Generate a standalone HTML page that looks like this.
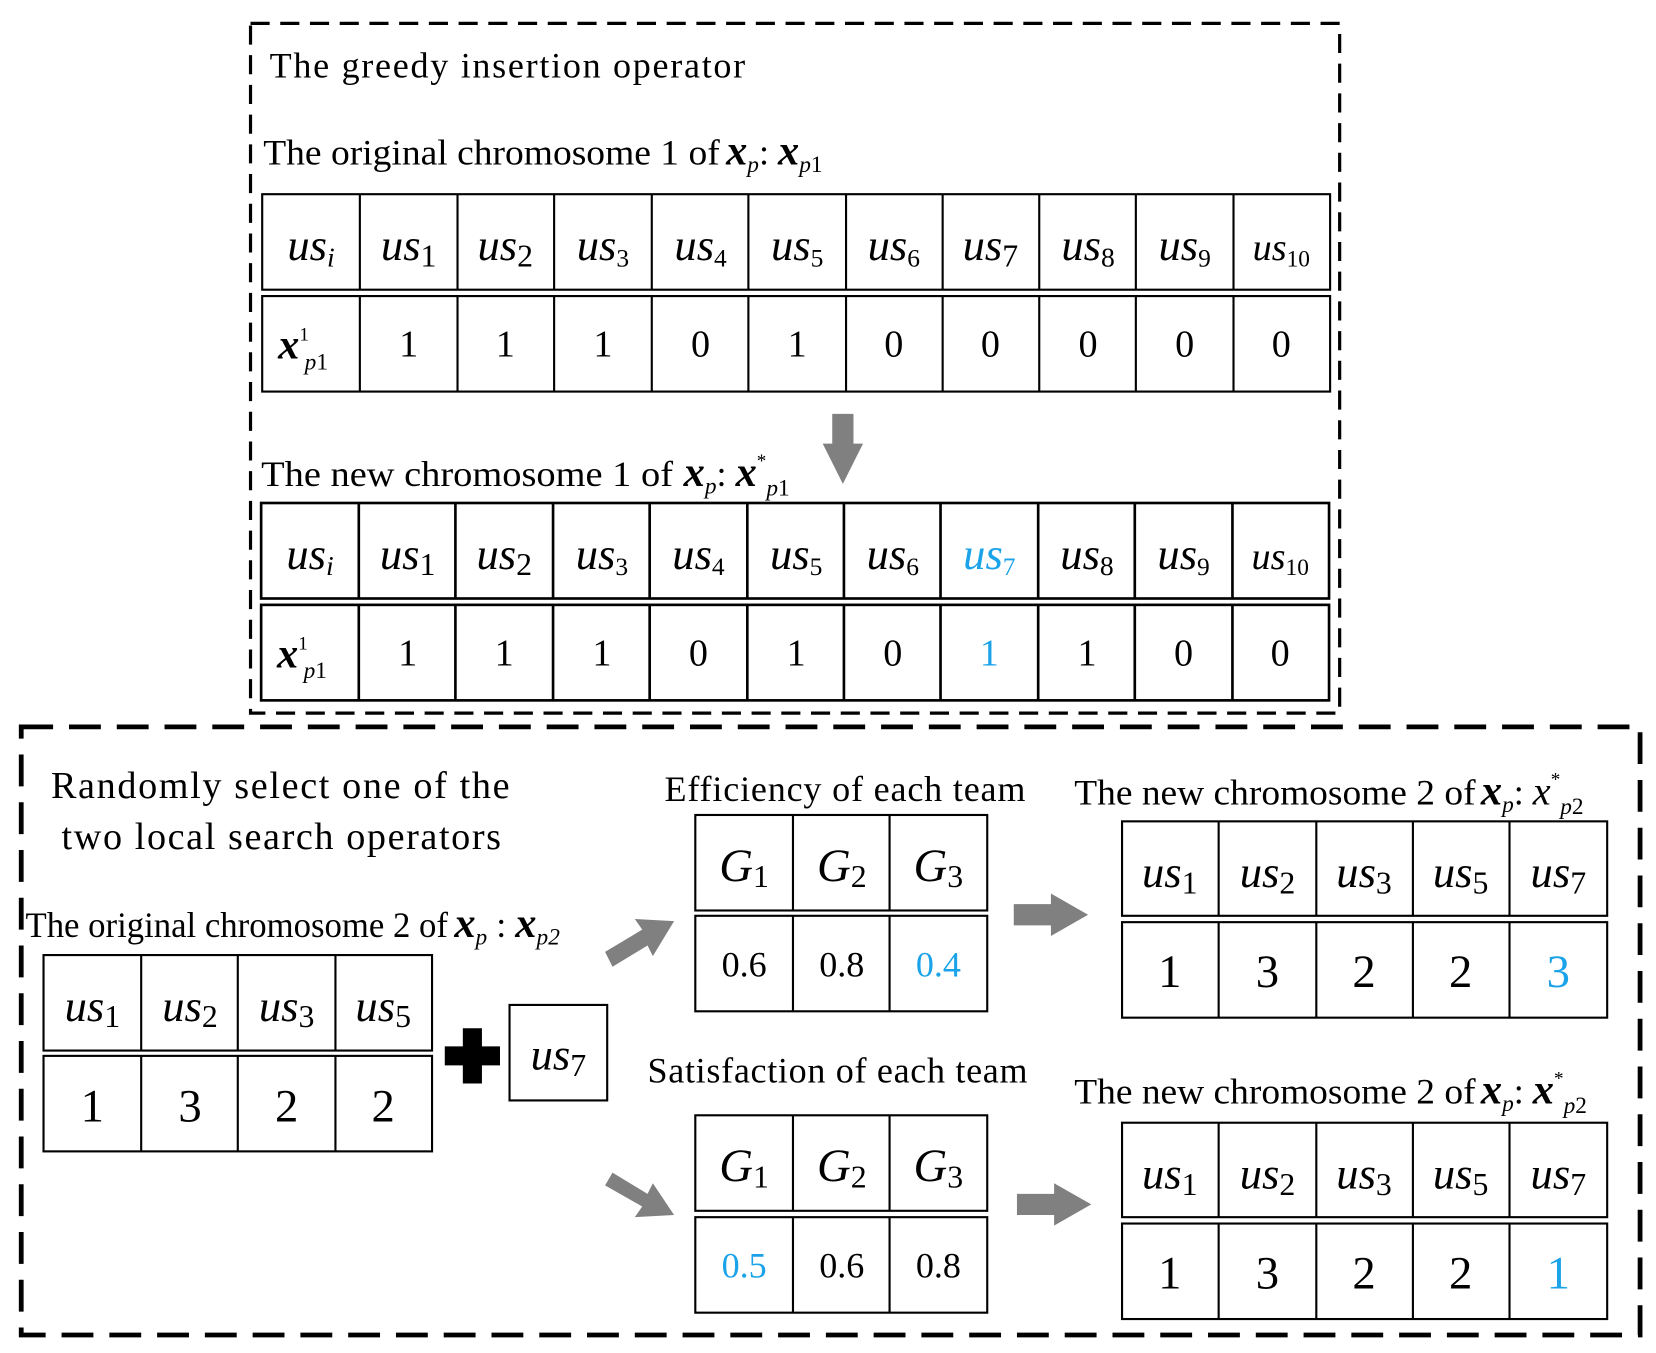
<!DOCTYPE html>
<html><head><meta charset="utf-8"><style>
html,body{margin:0;padding:0;background:#fff;}
svg{display:block;}
svg, svg text, svg tspan{font-family:"Liberation Serif","Times New Roman",Times,serif;}
text{fill:#000;}
.i{font-style:italic;}
.b{font-weight:bold;font-style:italic;}
.blue{fill:#1aa3e8;}
</style></head><body>
<svg width="1656" height="1353" viewBox="0 0 1560 1275" preserveAspectRatio="none" xmlns="http://www.w3.org/2000/svg" font-family="Liberation Serif, Times New Roman, serif">
<rect x="236" y="22" width="1026" height="650" fill="none" stroke="#000" stroke-width="3" stroke-dasharray="18,10"/>
<rect x="20" y="685" width="1525" height="573" fill="none" stroke="#000" stroke-width="4.5" stroke-dasharray="30,15"/>

<text x="254" y="73" font-size="34" textLength="448">The greedy insertion operator</text>
<text x="248" y="155" font-size="34"><tspan textLength="430" lengthAdjust="spacingAndGlyphs">The original chromosome 1 of</tspan><tspan dx="6" class="b" font-size="40">x</tspan><tspan class="i" font-size="22" dy="7">p</tspan><tspan dy="-7">:  </tspan><tspan class="b" font-size="40">x</tspan><tspan class="i" font-size="22" dy="7">p</tspan><tspan font-size="22">1</tspan></text>

<g fill="none" stroke="#000" stroke-width="2">
<rect x="247" y="183" width="1006" height="90"/>
<rect x="247" y="279" width="1006" height="90"/>
<path d="M339 183V273M431 183V273M522 183V273M614 183V273M705 183V273M797 183V273M888 183V273M979 183V273M1070 183V273M1162 183V273"/>
<path d="M339 279V369M431 279V369M522 279V369M614 279V369M705 279V369M797 279V369M888 279V369M979 279V369M1070 279V369M1162 279V369"/>
</g>
<g font-size="42" text-anchor="middle">
<text x="293" y="245"><tspan class="i">us</tspan><tspan class="i" font-size="26" dy="6">i</tspan></text>
<text x="385" y="245"><tspan class="i">us</tspan><tspan font-size="30" dy="6">1</tspan></text>
<text x="476" y="245"><tspan class="i">us</tspan><tspan font-size="30" dy="6">2</tspan></text>
<text x="568" y="245"><tspan class="i">us</tspan><tspan font-size="24" dy="6">3</tspan></text>
<text x="660" y="245"><tspan class="i">us</tspan><tspan font-size="24" dy="6">4</tspan></text>
<text x="751" y="245"><tspan class="i">us</tspan><tspan font-size="24" dy="6">5</tspan></text>
<text x="842" y="245"><tspan class="i">us</tspan><tspan font-size="24" dy="6">6</tspan></text>
<text x="933" y="245"><tspan class="i">us</tspan><tspan font-size="30" dy="6">7</tspan></text>
<text x="1025" y="245"><tspan class="i">us</tspan><tspan font-size="26" dy="6">8</tspan></text>
<text x="1116" y="245"><tspan class="i">us</tspan><tspan font-size="24" dy="6">9</tspan></text>
<text x="1207" y="245"><tspan class="i" font-size="36">us</tspan><tspan font-size="22" dy="6">10</tspan></text>
</g>
<text x="262" y="338" font-size="40"><tspan class="b">x</tspan><tspan font-size="18" dy="-17">1</tspan><tspan class="i" font-size="22" dy="27" dx="-4">p</tspan><tspan font-size="22">1</tspan></text>
<g font-size="36" text-anchor="middle">
<text x="385" y="336">1</text><text x="476" y="336">1</text><text x="568" y="336">1</text><text x="660" y="336">0</text><text x="751" y="336">1</text><text x="842" y="336">0</text><text x="933" y="336">0</text><text x="1025" y="336">0</text><text x="1116" y="336">0</text><text x="1207" y="336">0</text>
</g>

<polygon points="784,390 804,390 804,418 813,418 794,456 775,418 784,418" fill="#808080"/>

<text x="246" y="458" font-size="34"><tspan textLength="388" lengthAdjust="spacingAndGlyphs">The new chromosome 1 of</tspan><tspan dx="10" class="b" font-size="40">x</tspan><tspan class="i" font-size="22" dy="7">p</tspan><tspan dy="-7">:  </tspan><tspan class="b" font-size="40">x</tspan><tspan font-size="18" dy="-18">*</tspan><tspan class="i" font-size="22" dy="27">p</tspan><tspan font-size="22">1</tspan></text>

<g fill="none" stroke="#000" stroke-width="2.5">
<rect x="246" y="474" width="1006" height="90"/>
<rect x="246" y="570" width="1006" height="90"/>
<path d="M338 474V564M429 474V564M521 474V564M612 474V564M704 474V564M795 474V564M886 474V564M978 474V564M1069 474V564M1161 474V564"/>
<path d="M338 570V660M429 570V660M521 570V660M612 570V660M704 570V660M795 570V660M886 570V660M978 570V660M1069 570V660M1161 570V660"/>
</g>
<g font-size="42" text-anchor="middle">
<text x="292" y="536"><tspan class="i">us</tspan><tspan class="i" font-size="26" dy="6">i</tspan></text>
<text x="384" y="536"><tspan class="i">us</tspan><tspan font-size="30" dy="6">1</tspan></text>
<text x="475" y="536"><tspan class="i">us</tspan><tspan font-size="30" dy="6">2</tspan></text>
<text x="567" y="536"><tspan class="i">us</tspan><tspan font-size="24" dy="6">3</tspan></text>
<text x="658" y="536"><tspan class="i">us</tspan><tspan font-size="24" dy="6">4</tspan></text>
<text x="750" y="536"><tspan class="i">us</tspan><tspan font-size="24" dy="6">5</tspan></text>
<text x="841" y="536"><tspan class="i">us</tspan><tspan font-size="24" dy="6">6</tspan></text>
<text x="932" y="536" class="blue"><tspan class="i">us</tspan><tspan font-size="24" dy="6">7</tspan></text>
<text x="1024" y="536"><tspan class="i">us</tspan><tspan font-size="26" dy="6">8</tspan></text>
<text x="1115" y="536"><tspan class="i">us</tspan><tspan font-size="24" dy="6">9</tspan></text>
<text x="1206" y="536"><tspan class="i" font-size="36">us</tspan><tspan font-size="22" dy="6">10</tspan></text>
</g>
<text x="261" y="629" font-size="40"><tspan class="b">x</tspan><tspan font-size="18" dy="-17">1</tspan><tspan class="i" font-size="22" dy="27" dx="-4">p</tspan><tspan font-size="22">1</tspan></text>
<g font-size="36" text-anchor="middle">
<text x="384" y="627">1</text><text x="475" y="627">1</text><text x="567" y="627">1</text><text x="658" y="627">0</text><text x="750" y="627">1</text><text x="841" y="627">0</text><text x="932" y="627" class="blue">1</text><text x="1024" y="627">1</text><text x="1115" y="627">0</text><text x="1206" y="627">0</text>
</g>

<text x="48" y="752" font-size="36" textLength="432">Randomly select one of the</text>
<text x="58" y="800" font-size="36" textLength="414">two local search operators</text>
<text x="24" y="883" font-size="34"><tspan textLength="398" lengthAdjust="spacingAndGlyphs">The original chromosome 2 of</tspan><tspan dx="6" class="b" font-size="40">x</tspan><tspan class="i" font-size="22" dy="7">p</tspan><tspan dy="-7"> : </tspan><tspan class="b" font-size="40">x</tspan><tspan class="i" font-size="22" dy="7">p2</tspan></text>

<g fill="none" stroke="#000" stroke-width="2">
<rect x="41" y="900" width="366" height="90"/>
<rect x="41" y="995" width="366" height="90"/>
<path d="M133 900V990M224 900V990M316 900V990M133 995V1085M224 995V1085M316 995V1085"/>
<rect x="480" y="947" width="92" height="90"/>
</g>
<g font-size="42" text-anchor="middle">
<text x="87" y="962"><tspan class="i">us</tspan><tspan font-size="30" dy="6">1</tspan></text>
<text x="179" y="962"><tspan class="i">us</tspan><tspan font-size="30" dy="6">2</tspan></text>
<text x="270" y="962"><tspan class="i">us</tspan><tspan font-size="30" dy="6">3</tspan></text>
<text x="361" y="962"><tspan class="i">us</tspan><tspan font-size="30" dy="6">5</tspan></text>
<text x="526" y="1008"><tspan class="i">us</tspan><tspan font-size="30" dy="6">7</tspan></text>
</g>
<g font-size="44" text-anchor="middle">
<text x="87" y="1057">1</text><text x="179" y="1057">3</text><text x="270" y="1057">2</text><text x="361" y="1057">2</text>
</g>
<path d="M419 986H471V1004H419ZM436 969H454V1021H436Z" fill="#000"/>

<g fill="#808080">
<polygon points="570,897 605,876 598,866 635,868 615,901 610,891 577,911"/>
<polygon points="577,1105 610,1125 615,1115 635,1145 598,1147 605,1137 570,1117"/>
<polygon points="955,852 990,852 990,842 1025,862 990,882 990,872 955,872"/>
<polygon points="958,1125 993,1125 993,1115 1028,1135 993,1155 993,1145 958,1145"/>
</g>

<text x="626" y="755" font-size="34" textLength="340">Efficiency of each team</text>
<text x="610" y="1020" font-size="34" textLength="358">Satisfaction of each team</text>

<g fill="none" stroke="#000" stroke-width="2">
<rect x="655" y="768" width="275" height="90"/>
<rect x="655" y="863" width="275" height="90"/>
<path d="M747 768V858M838 768V858M747 863V953M838 863V953"/>
<rect x="655" y="1051" width="275" height="90"/>
<rect x="655" y="1147" width="275" height="90"/>
<path d="M747 1051V1141M838 1051V1141M747 1147V1237M838 1147V1237"/>
</g>
<g font-size="44" text-anchor="middle">
<text x="701" y="830"><tspan class="i">G</tspan><tspan font-size="30" dy="6">1</tspan></text>
<text x="793" y="830"><tspan class="i">G</tspan><tspan font-size="30" dy="6">2</tspan></text>
<text x="884" y="830"><tspan class="i">G</tspan><tspan font-size="30" dy="6">3</tspan></text>
<text x="701" y="1113"><tspan class="i">G</tspan><tspan font-size="30" dy="6">1</tspan></text>
<text x="793" y="1113"><tspan class="i">G</tspan><tspan font-size="30" dy="6">2</tspan></text>
<text x="884" y="1113"><tspan class="i">G</tspan><tspan font-size="30" dy="6">3</tspan></text>
</g>
<g font-size="34" text-anchor="middle">
<text x="701" y="920">0.6</text><text x="793" y="920">0.8</text><text x="884" y="920" class="blue">0.4</text>
<text x="701" y="1204" class="blue">0.5</text><text x="793" y="1204">0.6</text><text x="884" y="1204">0.8</text>
</g>

<text x="1012" y="758" font-size="34"><tspan textLength="378" lengthAdjust="spacingAndGlyphs">The new chromosome 2 of</tspan><tspan dx="5" class="b" font-size="40">x</tspan><tspan class="i" font-size="22" dy="7">p</tspan><tspan dy="-7">: </tspan><tspan class="i" font-size="38">x</tspan><tspan font-size="18" dy="-18">*</tspan><tspan class="i" font-size="22" dy="27">p</tspan><tspan font-size="22">2</tspan></text>
<text x="1012" y="1040" font-size="34"><tspan textLength="378" lengthAdjust="spacingAndGlyphs">The new chromosome 2 of</tspan><tspan dx="5" class="b" font-size="40">x</tspan><tspan class="i" font-size="22" dy="7">p</tspan><tspan dy="-7">: </tspan><tspan class="b" font-size="40">x</tspan><tspan font-size="18" dy="-18">*</tspan><tspan class="i" font-size="22" dy="27">p</tspan><tspan font-size="22">2</tspan></text>

<g fill="none" stroke="#000" stroke-width="2">
<rect x="1057" y="774" width="457" height="89"/>
<rect x="1057" y="869" width="457" height="90"/>
<path d="M1148 774V863M1240 774V863M1331 774V863M1422 774V863M1148 869V959M1240 869V959M1331 869V959M1422 869V959"/>
<rect x="1057" y="1058" width="457" height="89"/>
<rect x="1057" y="1153" width="457" height="90"/>
<path d="M1148 1058V1147M1240 1058V1147M1331 1058V1147M1422 1058V1147M1148 1153V1243M1240 1153V1243M1331 1153V1243M1422 1153V1243"/>
</g>
<g font-size="42" text-anchor="middle">
<text x="1102" y="836"><tspan class="i">us</tspan><tspan font-size="30" dy="6">1</tspan></text>
<text x="1194" y="836"><tspan class="i">us</tspan><tspan font-size="30" dy="6">2</tspan></text>
<text x="1285" y="836"><tspan class="i">us</tspan><tspan font-size="30" dy="6">3</tspan></text>
<text x="1376" y="836"><tspan class="i">us</tspan><tspan font-size="30" dy="6">5</tspan></text>
<text x="1468" y="836"><tspan class="i">us</tspan><tspan font-size="30" dy="6">7</tspan></text>
<text x="1102" y="1120"><tspan class="i">us</tspan><tspan font-size="30" dy="6">1</tspan></text>
<text x="1194" y="1120"><tspan class="i">us</tspan><tspan font-size="30" dy="6">2</tspan></text>
<text x="1285" y="1120"><tspan class="i">us</tspan><tspan font-size="30" dy="6">3</tspan></text>
<text x="1376" y="1120"><tspan class="i">us</tspan><tspan font-size="30" dy="6">5</tspan></text>
<text x="1468" y="1120"><tspan class="i">us</tspan><tspan font-size="30" dy="6">7</tspan></text>
</g>
<g font-size="44" text-anchor="middle">
<text x="1102" y="930">1</text><text x="1194" y="930">3</text><text x="1285" y="930">2</text><text x="1376" y="930">2</text><text x="1468" y="930" class="blue">3</text>
<text x="1102" y="1214">1</text><text x="1194" y="1214">3</text><text x="1285" y="1214">2</text><text x="1376" y="1214">2</text><text x="1468" y="1214" class="blue">1</text>
</g>
</svg>
</body></html>
